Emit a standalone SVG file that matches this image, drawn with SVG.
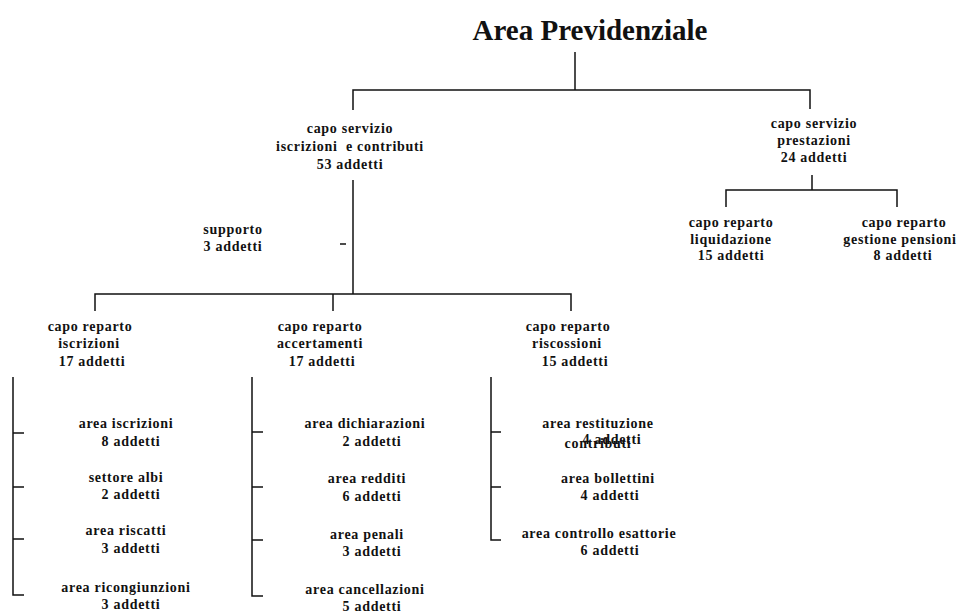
<svg xmlns="http://www.w3.org/2000/svg" width="962" height="612" viewBox="0 0 962 612">
<style>
.t{font-family:"Liberation Serif","Times New Roman",serif;font-weight:bold;font-size:14px;letter-spacing:0.7px;fill:#111;text-anchor:middle}
.title{font-family:"Liberation Serif","Times New Roman",serif;font-weight:bold;font-size:29px;fill:#111;text-anchor:middle}
.c{fill:none;stroke:#111;stroke-width:1.5}
</style>
<rect width="962" height="612" fill="#fff"/>
<g id="connectors">
<path class="c" d="M575,52V90"/>
<path class="c" d="M353,110V90H810V109"/>
<path class="c" d="M353,180V294"/>
<path class="c" d="M340,244H346"/>
<path class="c" d="M95,311V294H571V311"/>
<path class="c" d="M333,294V311"/>
<path class="c" d="M812,175V190"/>
<path class="c" d="M726,207V190H897V207"/>
<path class="c" d="M13,377V595H24M13,433H24M13,487H24M13,539H24"/>
<path class="c" d="M252,377V596H263M252,432H263M252,487H263M252,540H263"/>
<path class="c" d="M491,377V540H501M491,432H501M491,487H501"/>
</g>
<g id="area-previdenziale"><text class="title" x="590" y="40">Area Previdenziale</text></g>
<g id="capo-servizio-iscrizioni">
<text class="t" x="350" y="133">capo servizio</text>
<text class="t" x="350" y="151" xml:space="preserve">iscrizioni  e contributi</text>
<text class="t" x="350" y="169">53 addetti</text>
</g>
<g id="capo-servizio-prestazioni">
<text class="t" x="814" y="128">capo servizio</text>
<text class="t" x="814" y="145">prestazioni</text>
<text class="t" x="814" y="162">24 addetti</text>
</g>
<g id="supporto">
<text class="t" x="233" y="234">supporto</text>
<text class="t" x="233" y="251">3 addetti</text>
</g>
<g id="capo-reparto-liquidazione">
<text class="t" x="731" y="227">capo reparto</text>
<text class="t" x="731" y="244">liquidazione</text>
<text class="t" x="731" y="260">15 addetti</text>
</g>
<g id="capo-reparto-gestione-pensioni">
<text class="t" x="904" y="227">capo reparto</text>
<text class="t" x="900" y="244">gestione pensioni</text>
<text class="t" x="903" y="260">8 addetti</text>
</g>
<g id="capo-reparto-iscrizioni">
<text class="t" x="90" y="331">capo reparto</text>
<text class="t" x="89" y="348">iscrizioni</text>
<text class="t" x="92" y="366">17 addetti</text>
</g>
<g id="capo-reparto-accertamenti">
<text class="t" x="320" y="331">capo reparto</text>
<text class="t" x="320" y="348">accertamenti</text>
<text class="t" x="322" y="366">17 addetti</text>
</g>
<g id="capo-reparto-riscossioni">
<text class="t" x="568" y="331">capo reparto</text>
<text class="t" x="567" y="348">riscossioni</text>
<text class="t" x="575" y="366">15 addetti</text>
</g>
<g id="area-iscrizioni">
<text class="t" x="126" y="428">area iscrizioni</text>
<text class="t" x="131" y="446">8 addetti</text>
</g>
<g id="settore-albi">
<text class="t" x="126" y="482">settore albi</text>
<text class="t" x="131" y="499">2 addetti</text>
</g>
<g id="area-riscatti">
<text class="t" x="126" y="535">area riscatti</text>
<text class="t" x="131" y="553">3 addetti</text>
</g>
<g id="area-ricongiunzioni">
<text class="t" x="126" y="592">area ricongiunzioni</text>
<text class="t" x="131" y="609">3 addetti</text>
</g>
<g id="area-dichiarazioni">
<text class="t" x="365" y="428">area dichiarazioni</text>
<text class="t" x="372" y="446">2 addetti</text>
</g>
<g id="area-redditi">
<text class="t" x="367" y="483">area redditi</text>
<text class="t" x="372" y="501">6 addetti</text>
</g>
<g id="area-penali">
<text class="t" x="367" y="539">area penali</text>
<text class="t" x="372" y="556">3 addetti</text>
</g>
<g id="area-cancellazioni">
<text class="t" x="365" y="594">area cancellazioni</text>
<text class="t" x="372" y="611">5 addetti</text>
</g>
<g id="area-restituzione-contributi">
<text class="t" x="598" y="428">area restituzione</text>
<text class="t" x="598" y="448">contributi</text>
<text class="t" x="612" y="444">4 addetti</text>
</g>
<g id="area-bollettini">
<text class="t" x="608" y="483">area bollettini</text>
<text class="t" x="610" y="500">4 addetti</text>
</g>
<g id="area-controllo-esattorie">
<text class="t" x="599" y="538">area controllo esattorie</text>
<text class="t" x="610" y="555">6 addetti</text>
</g>
</svg>
